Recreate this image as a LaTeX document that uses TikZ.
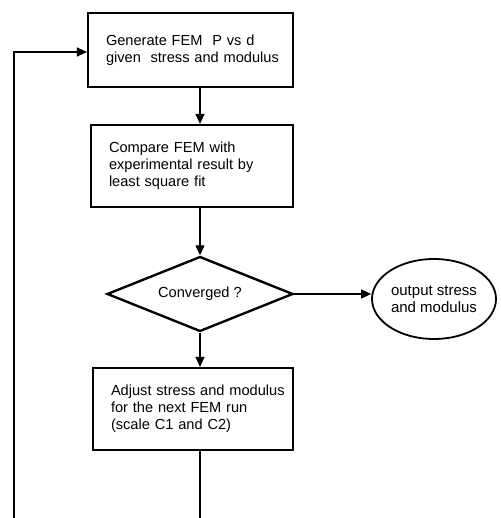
\documentclass[tikz,border=0pt]{standalone}
\usepackage{fontspec}
\setmainfont{Liberation Sans}
\usetikzlibrary{shapes.geometric,arrows.meta}
\begin{document}
\begin{tikzpicture}[x=1pt,y=1pt,
  every node/.style={font=\fontsize{14.6}{16.8}\selectfont},
  procbox/.style={draw,line width=2.2pt,rectangle,align=left,inner xsep=18pt,minimum height=#1},
  decide/.style={draw,line width=2.4pt,diamond,aspect=2.48,minimum width=186pt,minimum height=75pt,inner sep=0pt},
  term/.style={draw,line width=1.8pt,ellipse,minimum width=124pt,minimum height=80pt,inner sep=0pt,align=center},
  flow/.style={line width=1.3pt,-{Triangle[length=10pt,width=9pt]}}]
\useasboundingbox (0,0) rectangle (500,518);
\clip (0,0) rectangle (500,518);
\node[procbox=74pt,text width=169pt] (gen) at (190.5,468) {\mbox{Generate FEM\ \ P vs d}\\\mbox{given\ \ stress and modulus}};
\node[procbox=82pt,text width=166pt] (cmp) at (192,352) {\mbox{Compare FEM with}\\\mbox{experimental result by}\\\mbox{least square fit}};
\node[decide] (conv) at (200,224) {Converged ?};
\node[term] (out) at (434,219) {\fontsize{15}{16.8}\selectfont output stress\\\fontsize{15}{16.8}\selectfont and modulus};
\node[procbox=82pt,text width=164pt,inner xsep=18pt] (adj) at (193,109) {\mbox{Adjust stress and modulus}\\\mbox{for the next FEM run}\\\mbox{(scale C1 and C2)}};
\coordinate (loopL) at (14,-40);
\draw[flow] (gen.south -| conv.north) -- (cmp.north -| conv.north);
\draw[flow] (cmp.south -| conv.north) -- (conv.north);
\draw[flow] (conv.east) -- (conv.east -| out.west);
\draw[flow] (conv.south) -- (adj.north -| conv.south);
\draw[flow] (adj.south -| conv.south) |- (loopL) |- ([yshift=-2pt]gen.west);
\end{tikzpicture}
\end{document}
